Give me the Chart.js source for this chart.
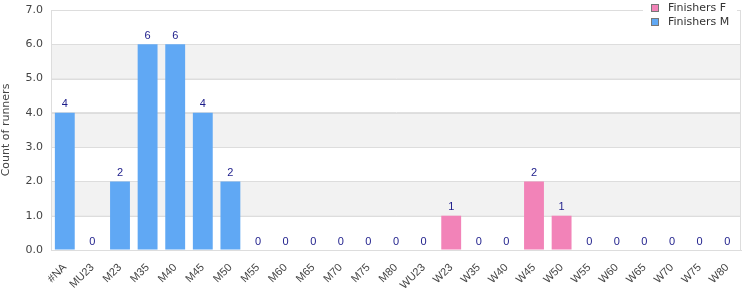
<!DOCTYPE html>
<html>
<head>
<meta charset="utf-8">
<script src="https://cdn.jsdelivr.net/npm/chart.js@4/dist/chart.umd.min.js"></script>
<style>
    html, body { margin: 0; padding: 0; background: #fff; }
    #wrap { width: 750px; height: 300px; }
</style>
</head>
<body>
<div id="wrap"><canvas id="runnersChart" width="750" height="300"></canvas></div>
<script>
// Age categories along the x axis
const categories = ['#NA', 'MU23', 'M23', 'M35', 'M40', 'M45', 'M50', 'M55', 'M60', 'M65', 'M70', 'M75', 'M80',
    'WU23', 'W23', 'W35', 'W40', 'W45', 'W50', 'W55', 'W60', 'W65', 'W70', 'W75', 'W80'];

// Finisher counts per category
const finishersF = [0, 0, 0, 0, 0, 0, 0, 0, 0, 0, 0, 0, 0, 0, 1, 0, 0, 2, 1, 0, 0, 0, 0, 0, 0];
const finishersM = [4, 0, 2, 6, 6, 4, 2, 0, 0, 0, 0, 0, 0, 0, 0, 0, 0, 0, 0, 0, 0, 0, 0, 0, 0];

const yTicks = [0, 1, 2, 3, 4, 5, 6, 7];

const FONT = "'DejaVu Sans', Verdana, sans-serif";
const FONT_X = "'Liberation Sans', Arial, sans-serif";

// Alternating grey bands behind the bars
const bandPlugin = {
    id: 'bands',
    beforeDatasetsDraw(chart) {
        const { ctx, chartArea, scales } = chart;
        ctx.save();
        ctx.fillStyle = '#f2f2f2';
        for (let v = 1; v < 7; v += 2) {
            const top = scales.y.getPixelForValue(v + 1);
            const bottom = scales.y.getPixelForValue(v);
            ctx.fillRect(chartArea.left, top, chartArea.right - chartArea.left, bottom - top);
        }
        // redraw the grid lines over the bands
        ctx.strokeStyle = '#dddddd';
        ctx.lineWidth = 1;
        yTicks.forEach(v => {
            const y = Math.round(scales.y.getPixelForValue(v)) + 0.5;
            ctx.beginPath();
            ctx.moveTo(chartArea.left, y);
            ctx.lineTo(chartArea.right, y);
            ctx.stroke();
        });
        ctx.beginPath();
        ctx.moveTo(chartArea.left + 0.5, chartArea.top);
        ctx.lineTo(chartArea.left + 0.5, chartArea.bottom);
        ctx.moveTo(chartArea.right - 0.5, chartArea.top);
        ctx.lineTo(chartArea.right - 0.5, chartArea.bottom);
        ctx.stroke();
        ctx.restore();
    }
};

// Total count written above each category
const totalsPlugin = {
    id: 'totals',
    afterDatasetsDraw(chart) {
        const { ctx, scales } = chart;
        ctx.save();
        ctx.font = '11px ' + FONT_X;
        ctx.fillStyle = '#1c1c8a';
        ctx.textAlign = 'center';
        ctx.textBaseline = 'bottom';
        categories.forEach((c, i) => {
            const total = finishersF[i] + finishersM[i];
            const x = scales.x.getPixelForValue(i);
            const y = scales.y.getPixelForValue(total);
            ctx.fillText(String(total), x, y - 3);
        });
        ctx.restore();
    }
};

// Legend box in the top right corner, over the frame
const legendPlugin = {
    id: 'cornerLegend',
    afterDraw(chart) {
        const { ctx } = chart;
        const x0 = 643, y0 = 2;
        ctx.save();
        ctx.fillStyle = '#ffffff';
        ctx.fillRect(x0, y0, 94, 30);
        ctx.font = '11px ' + FONT;
        ctx.textBaseline = 'middle';
        chart.data.datasets.forEach((ds, i) => {
            const y = 8 + i * 14;
            ctx.fillStyle = ds.backgroundColor;
            ctx.fillRect(x0 + 8, y - 4, 8, 8);
            ctx.strokeStyle = '#777777';
            ctx.lineWidth = 1;
            ctx.strokeRect(x0 + 8.5, y - 3.5, 7, 7);
            ctx.fillStyle = '#333333';
            ctx.fillText(ds.label, x0 + 25, y);
        });
        ctx.restore();
    }
};

const ctx = document.getElementById('runnersChart').getContext('2d');
new Chart(ctx, {
    type: 'bar',
    data: {
        labels: categories,
        datasets: [{
            label: 'Finishers F',
            data: finishersF,
            backgroundColor: '#f283b8'
        }, {
            label: 'Finishers M',
            data: finishersM,
            backgroundColor: '#60a8f4'
        }]
    },
    options: {
        responsive: false,
        animation: false,
        layout: { padding: { top: 10, right: 9, left: 0, bottom: 0 } },
        plugins: {
            legend: { display: false },
            tooltip: { enabled: false }
        },
        datasets: {
            bar: { categoryPercentage: 1.0, barPercentage: 0.72 }
        },
        scales: {
            x: {
                stacked: true,
                grid: { display: false },
                border: { color: '#dddddd' },
                ticks: {
                    color: '#444444',
                    font: { family: FONT_X, size: 11 },
                    maxRotation: 45,
                    minRotation: 45,
                    autoSkip: false
                },
                afterFit(scale) { scale.height = 50; }
            },
            y: {
                stacked: true,
                min: 0,
                max: 7,
                grid: { color: '#dddddd', drawTicks: false },
                border: { color: '#dddddd' },
                ticks: {
                    stepSize: 1,
                    padding: 8,
                    color: '#444444',
                    font: { family: FONT, size: 11 },
                    callback: v => v.toFixed(1)
                },
                title: {
                    display: true,
                    text: 'Count of runners',
                    color: '#444444',
                    font: { family: FONT, size: 11 },
                    padding: { top: 0, bottom: 4 }
                },
                afterFit(scale) {
                    scale.width = 51;
                    scale.paddingTop = 0;
                    scale.paddingBottom = 0;
                }
            }
        }
    },
    plugins: [bandPlugin, totalsPlugin, legendPlugin]
});
</script>
</body>
</html>
